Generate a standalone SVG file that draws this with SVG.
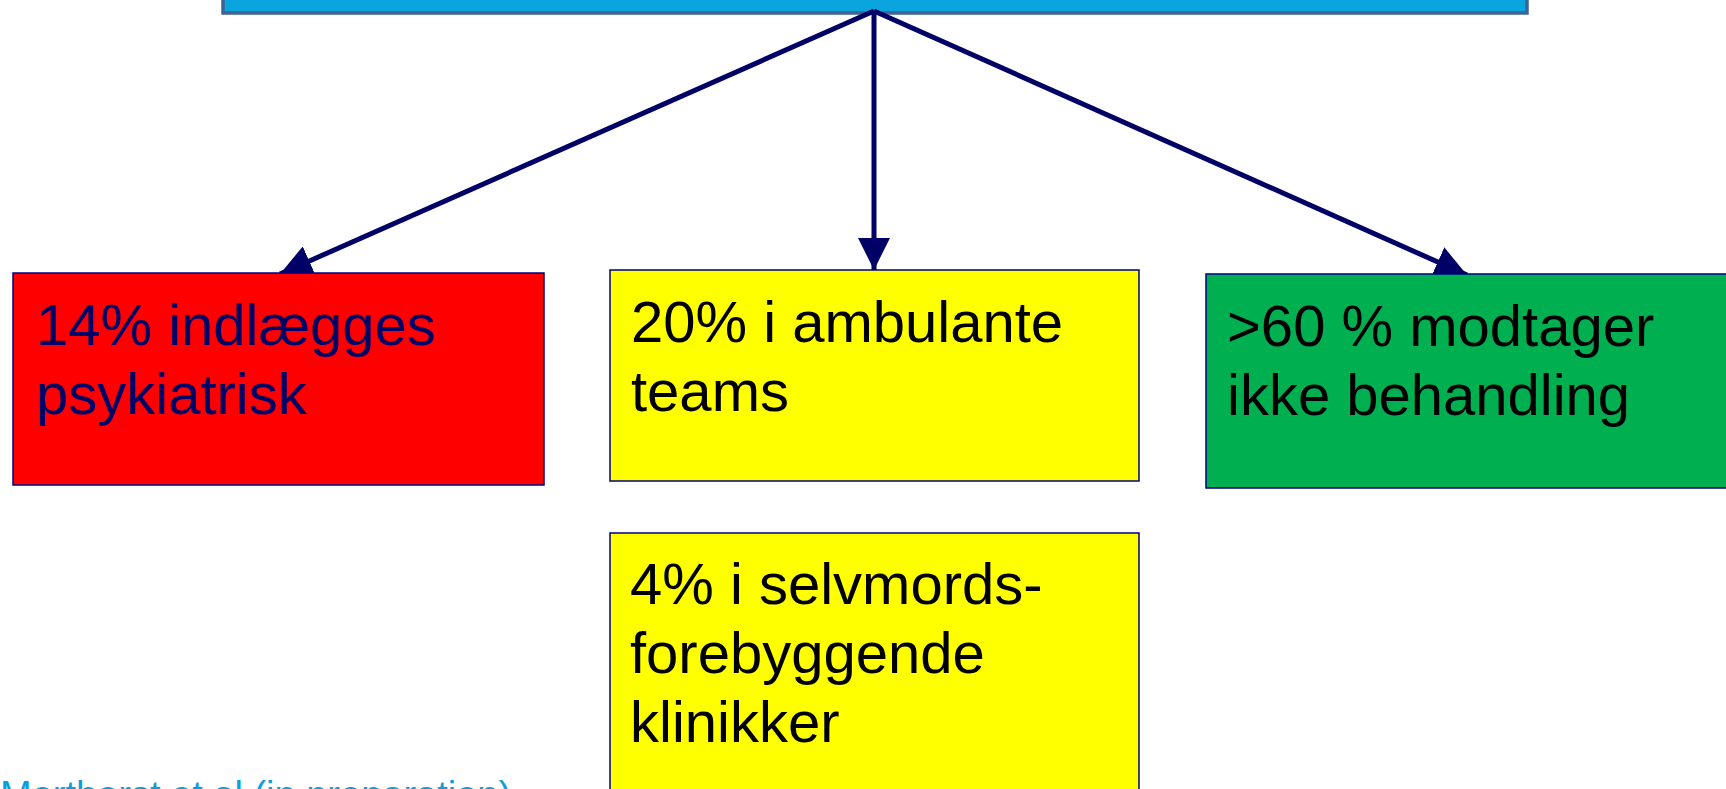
<svg xmlns="http://www.w3.org/2000/svg" width="1726" height="789" viewBox="0 0 1726 789">
<defs>
<style>
.box{stroke:#000080;stroke-width:1.5}
.t{font-family:"Liberation Sans",Arial,sans-serif;font-size:58px;fill:#000}
.conn{stroke:#000066;stroke-width:5;fill:none}
</style>
<marker id="ah" markerUnits="userSpaceOnUse" markerWidth="32" markerHeight="32" viewBox="0 0 30 30" refX="30" refY="15" orient="auto">
<path d="M0,0 L30,15 L0,30 Z" fill="#000066"/>
</marker>
</defs>
<rect width="1726" height="789" fill="#fff"/>
<g id="top">
<rect x="223" y="-20" width="1304" height="33" fill="#0AA5DE" stroke="#3E6494" stroke-width="3.5"/>
</g>
<g id="connectors">
<line class="conn" x1="874" y1="11" x2="280" y2="274" marker-end="url(#ah)"/>
<line class="conn" x1="874" y1="11" x2="874" y2="270" marker-end="url(#ah)"/>
<line class="conn" x1="874" y1="11" x2="1467" y2="275" marker-end="url(#ah)"/>
</g>
<g id="n1">
<rect class="box" x="13" y="273" width="531" height="212" fill="#FF0000"/>
<text class="t" x="36" y="345" style="fill:#000066">14% indlægges</text>
<text class="t" x="36" y="414" style="fill:#000066">psykiatrisk</text>
</g>
<g id="n2">
<rect class="box" x="610" y="270" width="529" height="211" fill="#FFFF00"/>
<text class="t" x="631" y="342">20% i ambulante</text>
<text class="t" x="631" y="411">teams</text>
</g>
<g id="n3">
<rect class="box" x="1206" y="274" width="530" height="214" fill="#00B050"/>
<text class="t" x="1227" y="346">&gt;60 % modtager</text>
<text class="t" x="1227" y="415">ikke behandling</text>
</g>
<g id="n4">
<rect class="box" x="610" y="533" width="529" height="280" fill="#FFFF00"/>
<text class="t" x="630" y="604">4% i selvmords-</text>
<text class="t" x="630" y="673">forebyggende</text>
<text class="t" x="630" y="742">klinikker</text>
</g>
<g id="ref">
<text x="0" y="808" style="font-family:'Liberation Sans',Arial,sans-serif;font-size:38px;fill:#0A9FDD">Morthorst et al (in preparation)</text>
</g>
</svg>
